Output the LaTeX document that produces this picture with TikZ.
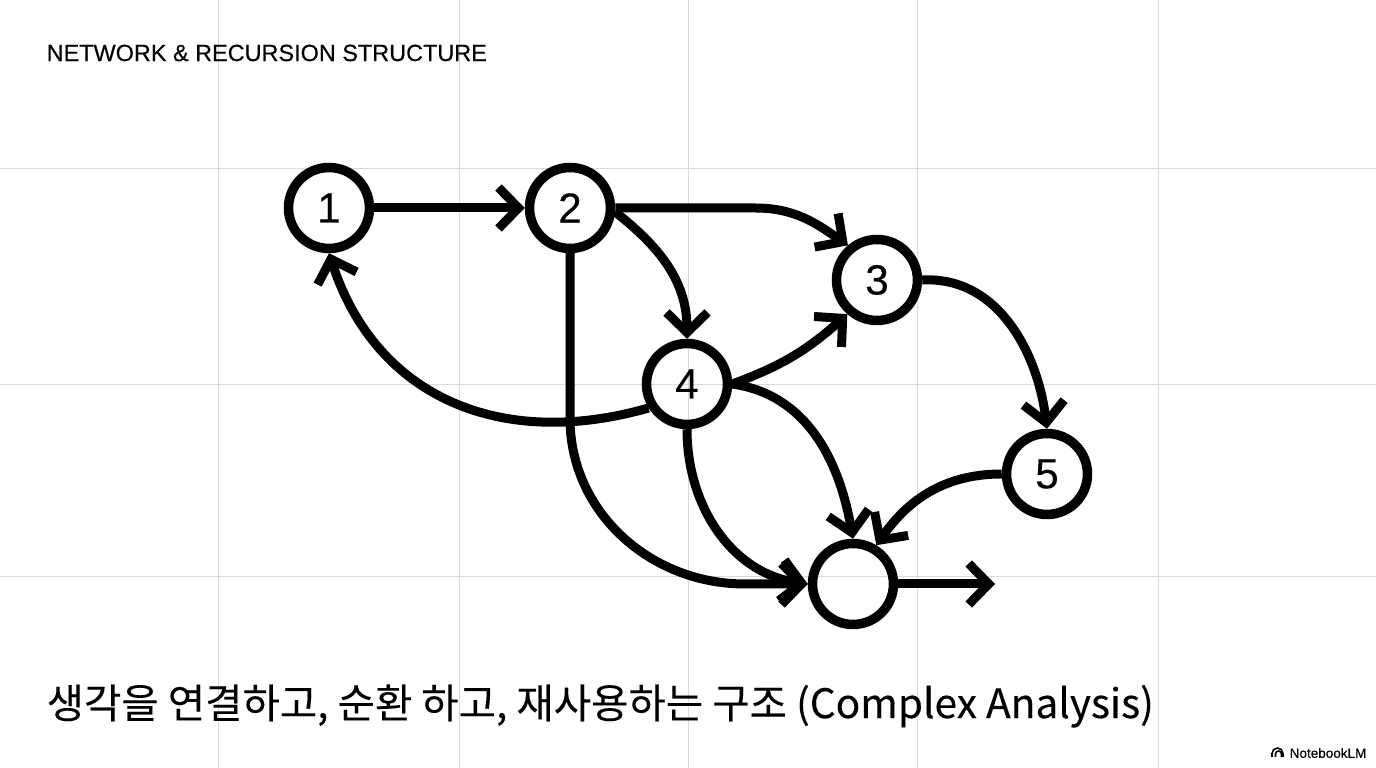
\documentclass[tikz,border=0pt]{standalone}
\usepackage{fontspec}
\setmainfont{Liberation Sans}
\newfontfamily\medfont[FakeBold=0.35]{Liberation Sans}
\newfontfamily\krfont[FakeBold=0.2]{Noto Sans CJK KR}
\usetikzlibrary{arrows.meta}
\tikzset{
  vertex/.style={draw, circle, line width=0.095cm, minimum size=0.81cm, inner sep=0pt, font=\medfont\fontsize{12}{12}\selectfont},
  edge/.style={->, line width=0.09cm},
  >={Straight Barb[length=2mm, width=4.1mm]}
}
\begin{document}
\begin{tikzpicture}
  \useasboundingbox (0, 0) rectangle (13.76, 7.68);

  % Background grid
  \foreach \x in {2.18, 4.59, 6.88, 9.17, 11.58}
    \draw[gray!30, line width=0.008cm] (\x, 0) -- (\x, 7.68);
  \foreach \y in {6.00, 3.84, 1.92}
    \draw[gray!30, line width=0.008cm] (0, \y) -- (13.76, \y);

  % Nodes
  \node[vertex] (n1) at (3.29, 5.60) {1};
  \node[vertex] (n2) at (5.70, 5.60) {2};
  \node[vertex] (n3) at (8.77, 4.88) {3};
  \node[vertex] (n4) at (6.87, 3.84) {4};
  \node[vertex] (n5) at (10.47, 2.94) {5};
  \node[vertex] (sink) at (8.53, 1.84) {};
  \coordinate (exit) at (9.95, 1.84);
  \coordinate (bend) at (7.45, 1.84);

  % Forward edges
  \draw[edge] (n1) -- (n2);
  \draw[edge] (n2.east) -- ++(1.4, 0) to[out=0, in=145] (n3.130);
  \draw[edge] (n2.-5) to[out=-38, in=90] (n4.north);
  \draw[edge] (n4.east) to[out=20, in=222] (n3.229);
  \draw[edge] (n3.east) to[out=3, in=97] (n5.north);

  % Loop back to the first node
  \draw[edge] (n4.212) to[out=196, in=-72, looseness=1.1] (n1.south);

  % Edges into the last node
  \draw[edge] (n2.south) -- ++(0, -1.65) to[out=-90, in=180] (bend) -- (sink.west);
  \draw[edge] (n4.south) to[out=-90, in=172] (sink.west);
  \draw[edge] (n4.east) to[out=-8, in=100] (sink.north);
  \draw[edge] (n5.west) to[out=180, in=55] (sink.59);
  \draw[edge] (sink) -- (exit);

  % Title and caption
  \node[anchor=west, inner sep=0pt, font=\medfont\fontsize{6.67}{7}\selectfont] (title) at (0.46, 7.15) {NETWORK \& RECURSION STRUCTURE};
  \node[anchor=west, inner sep=0pt, font=\krfont\fontsize{11.55}{12.5}\selectfont] (caption) at (0.46, 0.62) {생각을 연결하고, 순환 하고, 재사용하는 구조 (Complex Analysis)};

  % Logo mark
  \node[anchor=west, inner sep=0pt, font=\medfont\fontsize{3.85}{3.9}\selectfont] (logo) at (12.89, 0.15) {NotebookLM};
  \draw[line width=0.016cm] (12.72, 0.11) -- (12.72, 0.145) arc[start angle=180, end angle=0, radius=0.055] -- (12.83, 0.11);
  \draw[line width=0.016cm] (12.755, 0.11) -- (12.755, 0.14) arc[start angle=180, end angle=0, radius=0.03] -- (12.815, 0.11);
\end{tikzpicture}
\end{document}
